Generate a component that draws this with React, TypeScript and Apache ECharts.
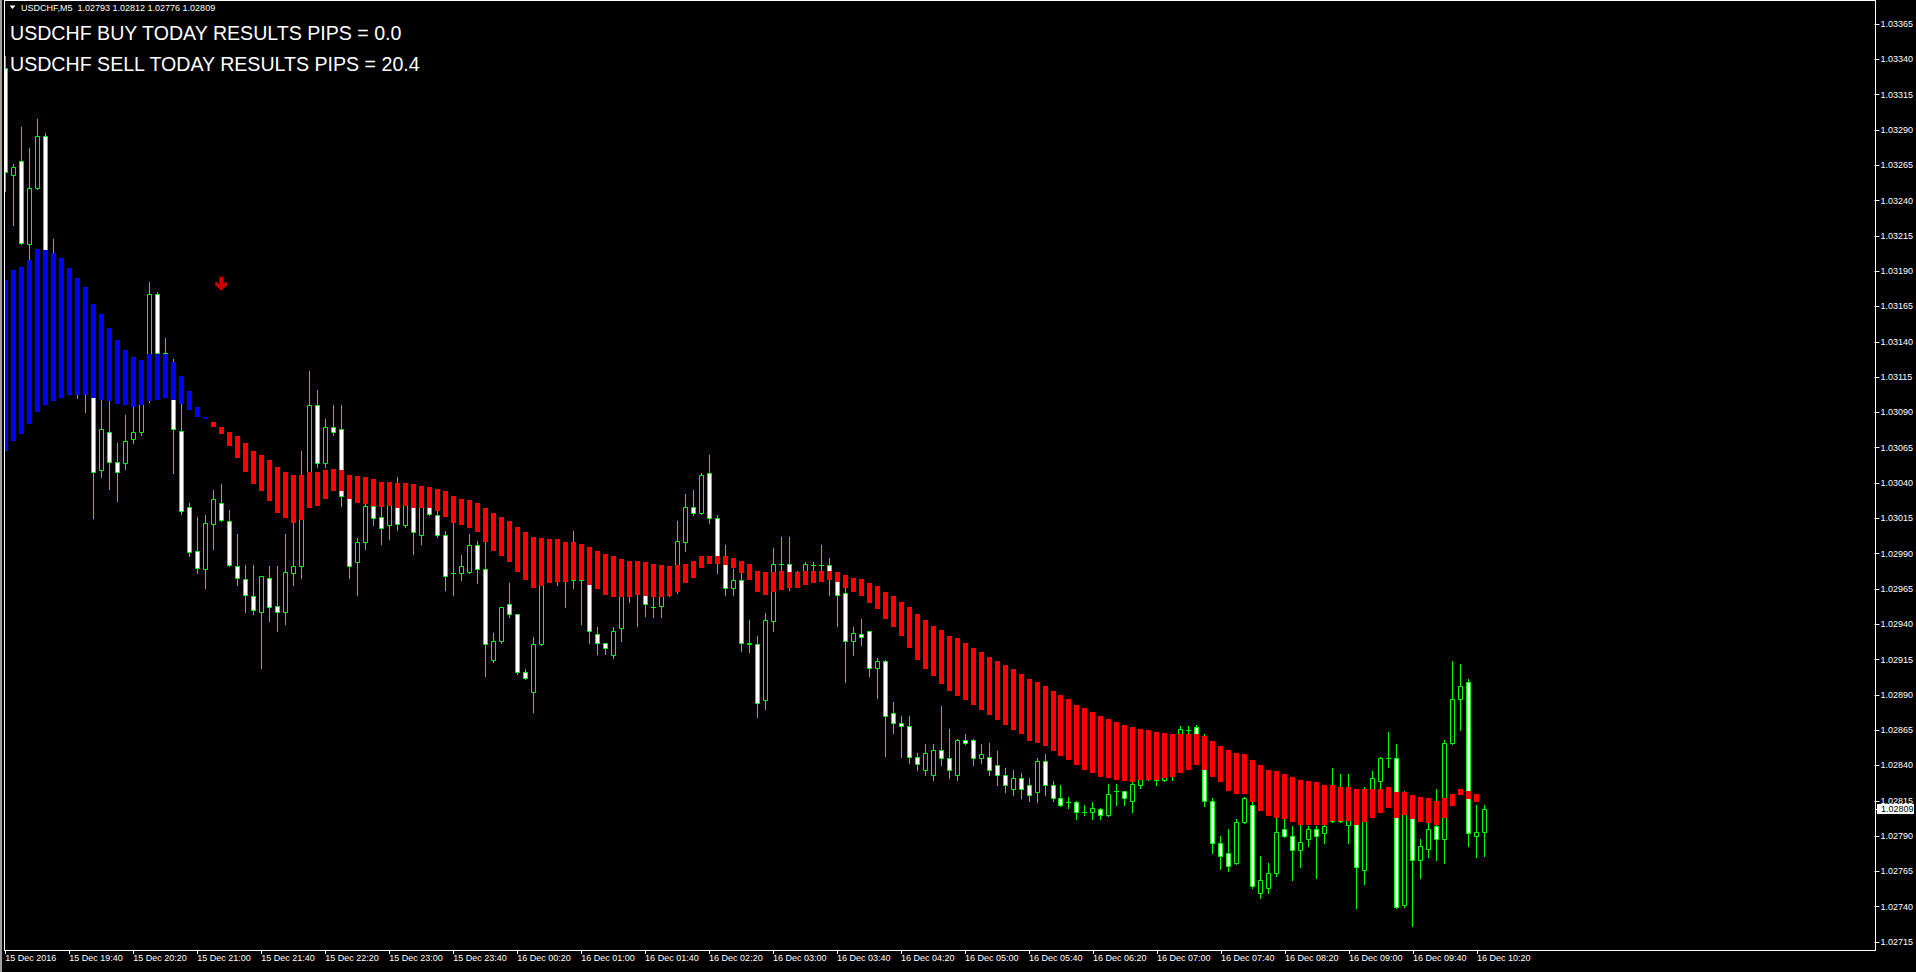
import React, { useEffect, useRef } from 'react';
import * as echarts from 'echarts';

const SYMBOL = 'USDCHF';
const BUY_PIPS = 0.0;
const SELL_PIPS = 20.4;

const tickLabels = [
  '15 Dec 2016', '15 Dec 19:40', '15 Dec 20:20', '15 Dec 21:00', '15 Dec 21:40', '15 Dec 22:20',
  '15 Dec 23:00', '15 Dec 23:40', '16 Dec 00:20', '16 Dec 01:00', '16 Dec 01:40', '16 Dec 02:20',
  '16 Dec 03:00', '16 Dec 03:40', '16 Dec 04:20', '16 Dec 05:00', '16 Dec 05:40', '16 Dec 06:20',
  '16 Dec 07:00', '16 Dec 07:40', '16 Dec 08:20', '16 Dec 09:00', '16 Dec 09:40', '16 Dec 10:20',
];

const opens = [
  1.03334, 1.03258, 1.03268, 1.03209, 1.03249, 1.03286, 1.03196, 1.03170, 1.03148, 1.03134,
  1.03113, 1.03106, 1.03049, 1.03076, 1.03055, 1.03054, 1.03071, 1.03076, 1.03099, 1.03174,
  1.03132, 1.03113, 1.03077, 1.03023, 1.02992, 1.02979, 1.03011, 1.03026, 1.03013, 1.02981,
  1.02972, 1.02960, 1.02949, 1.02973, 1.02953, 1.02949, 1.02976, 1.02981, 1.03035, 1.03095,
  1.03054, 1.03080, 1.03078, 1.03031, 1.02984, 1.02998, 1.03024, 1.03016, 1.03010, 1.03028,
  1.03010, 1.03029, 1.03003, 1.03028, 1.03017, 1.03003, 1.02976, 1.02976, 1.02977, 1.02996,
  1.02979, 1.02915, 1.02928, 1.02954, 1.02947, 1.02906, 1.02892, 1.02926, 1.02971, 1.02978,
  1.02975, 1.02971, 1.02977, 1.02973, 1.02933, 1.02927, 1.02918, 1.02937, 1.02964, 1.02968,
  1.02966, 1.02952, 1.02953, 1.02961, 1.02964, 1.02998, 1.03023, 1.03019, 1.03047, 1.03015,
  1.02985, 1.02966, 1.02971, 1.02927, 1.02926, 1.02886, 1.02942, 1.02983, 1.02983, 1.02971,
  1.02973, 1.02982, 1.02982, 1.02982, 1.02973, 1.02962, 1.02928, 1.02933, 1.02935, 1.02909,
  1.02914, 1.02877, 1.02870, 1.02868, 1.02846, 1.02837, 1.02833, 1.02851, 1.02845, 1.02833,
  1.02858, 1.02858, 1.02845, 1.02846, 1.02840, 1.02833, 1.02823, 1.02831, 1.02826, 1.02821,
  1.02843, 1.02826, 1.02817, 1.02814, 1.02814, 1.02807, 1.02807, 1.02809, 1.02805, 1.02822,
  1.02822, 1.02815, 1.02826, 1.02831, 1.02830, 1.02830, 1.02833, 1.02854, 1.02865, 1.02867,
  1.02860, 1.02815, 1.02785, 1.02778, 1.02771, 1.02800, 1.02812, 1.02750, 1.02753, 1.02764,
  1.02795, 1.02790, 1.02780, 1.02788, 1.02795, 1.02792, 1.02801, 1.02812, 1.02798, 1.02815,
  1.02766, 1.02808, 1.02829, 1.02845, 1.02845, 1.02741, 1.02815, 1.02773, 1.02781, 1.02797,
  1.02788, 1.02856, 1.02887, 1.02899, 1.02790, 1.02793,
];

const highs = [
  1.03342, 1.03266, 1.03292, 1.03277, 1.03298, 1.03288, 1.03213, 1.03177, 1.03155, 1.03141,
  1.03120, 1.03109, 1.03099, 1.03100, 1.03068, 1.03088, 1.03096, 1.03102, 1.03182, 1.03175,
  1.03143, 1.03128, 1.03096, 1.03026, 1.03016, 1.03017, 1.03035, 1.03039, 1.03021, 1.03004,
  1.02982, 1.02982, 1.02974, 1.02981, 1.02981, 1.03004, 1.03012, 1.03063, 1.03119, 1.03106,
  1.03085, 1.03095, 1.03095, 1.03033, 1.03001, 1.03025, 1.03028, 1.03023, 1.03031, 1.03044,
  1.03035, 1.03039, 1.03031, 1.03031, 1.03020, 1.03006, 1.03014, 1.02989, 1.03004, 1.02999,
  1.03005, 1.02934, 1.02952, 1.02969, 1.02947, 1.02908, 1.02931, 1.02975, 1.02985, 1.02985,
  1.02985, 1.03006, 1.02982, 1.02978, 1.02938, 1.02927, 1.02938, 1.02968, 1.02975, 1.02975,
  1.02971, 1.02959, 1.02964, 1.02971, 1.03013, 1.03032, 1.03035, 1.03047, 1.03060, 1.03017,
  1.02996, 1.02979, 1.02976, 1.02943, 1.02932, 1.02948, 1.02994, 1.03002, 1.03002, 1.02978,
  1.02984, 1.02984, 1.02996, 1.02987, 1.02975, 1.02966, 1.02938, 1.02944, 1.02935, 1.02916,
  1.02915, 1.02885, 1.02875, 1.02875, 1.02849, 1.02855, 1.02855, 1.02882, 1.02866, 1.02859,
  1.02862, 1.02859, 1.02855, 1.02856, 1.02850, 1.02838, 1.02837, 1.02835, 1.02831, 1.02845,
  1.02848, 1.02829, 1.02826, 1.02818, 1.02815, 1.02812, 1.02814, 1.02810, 1.02827, 1.02827,
  1.02822, 1.02829, 1.02837, 1.02840, 1.02837, 1.02837, 1.02844, 1.02868, 1.02868, 1.02869,
  1.02862, 1.02817, 1.02790, 1.02795, 1.02802, 1.02818, 1.02818, 1.02776, 1.02771, 1.02803,
  1.02802, 1.02797, 1.02799, 1.02797, 1.02797, 1.02798, 1.02838, 1.02834, 1.02834, 1.02819,
  1.02825, 1.02836, 1.02846, 1.02864, 1.02855, 1.02822, 1.02819, 1.02788, 1.02799, 1.02823,
  1.02858, 1.02914, 1.02912, 1.02901, 1.02812, 1.02812,
];

const lows = [
  1.03247, 1.03223, 1.03209, 1.03198, 1.03248, 1.03191, 1.03162, 1.03141, 1.03127, 1.03100,
  1.03090, 1.03015, 1.03044, 1.03036, 1.03027, 1.03050, 1.03068, 1.03074, 1.03097, 1.03127,
  1.03113, 1.03047, 1.03018, 1.02988, 1.02976, 1.02966, 1.02993, 1.03013, 1.02981, 1.02968,
  1.02949, 1.02947, 1.02909, 1.02942, 1.02935, 1.02940, 1.02968, 1.02973, 1.03031, 1.03051,
  1.03051, 1.03074, 1.03024, 1.02973, 1.02961, 1.02993, 1.03010, 1.02997, 1.03000, 1.03007,
  1.03009, 1.02990, 1.02997, 1.03017, 1.03002, 1.02964, 1.02961, 1.02971, 1.02976, 1.02969,
  1.02903, 1.02913, 1.02927, 1.02945, 1.02905, 1.02901, 1.02878, 1.02925, 1.02970, 1.02968,
  1.02952, 1.02966, 1.02940, 1.02927, 1.02919, 1.02919, 1.02916, 1.02928, 1.02956, 1.02939,
  1.02946, 1.02945, 1.02945, 1.02960, 1.02962, 1.02992, 1.03017, 1.03018, 1.03012, 1.02976,
  1.02961, 1.02961, 1.02921, 1.02920, 1.02874, 1.02880, 1.02935, 1.02975, 1.02964, 1.02967,
  1.02971, 1.02975, 1.02975, 1.02961, 1.02939, 1.02899, 1.02918, 1.02925, 1.02903, 1.02888,
  1.02847, 1.02863, 1.02846, 1.02842, 1.02837, 1.02833, 1.02830, 1.02840, 1.02831, 1.02830,
  1.02855, 1.02840, 1.02842, 1.02833, 1.02826, 1.02821, 1.02819, 1.02817, 1.02815, 1.02814,
  1.02819, 1.02815, 1.02811, 1.02810, 1.02802, 1.02805, 1.02802, 1.02802, 1.02804, 1.02812,
  1.02812, 1.02807, 1.02824, 1.02830, 1.02826, 1.02829, 1.02830, 1.02851, 1.02858, 1.02851,
  1.02811, 1.02778, 1.02767, 1.02765, 1.02770, 1.02799, 1.02753, 1.02746, 1.02750, 1.02762,
  1.02789, 1.02759, 1.02768, 1.02783, 1.02760, 1.02785, 1.02800, 1.02800, 1.02785, 1.02739,
  1.02756, 1.02805, 1.02819, 1.02839, 1.02739, 1.02740, 1.02726, 1.02760, 1.02775, 1.02773,
  1.02771, 1.02855, 1.02865, 1.02783, 1.02775, 1.02776,
];

const closes = [
  1.03260, 1.03264, 1.03210, 1.03249, 1.03286, 1.03196, 1.03170, 1.03148, 1.03134, 1.03113,
  1.03106, 1.03048, 1.03078, 1.03055, 1.03048, 1.03070, 1.03076, 1.03099, 1.03174, 1.03132,
  1.03116, 1.03078, 1.03020, 1.02991, 1.02980, 1.03012, 1.03029, 1.03014, 1.02982, 1.02973,
  1.02961, 1.02950, 1.02974, 1.02952, 1.02949, 1.02977, 1.02981, 1.03035, 1.03095, 1.03054,
  1.03080, 1.03076, 1.03031, 1.02981, 1.02998, 1.03024, 1.03015, 1.03008, 1.03028, 1.03011,
  1.03031, 1.03005, 1.03028, 1.03018, 1.03003, 1.02974, 1.02976, 1.02981, 1.02996, 1.02979,
  1.02926, 1.02928, 1.02952, 1.02947, 1.02906, 1.02902, 1.02926, 1.02971, 1.02978, 1.02975,
  1.02973, 1.02978, 1.02971, 1.02935, 1.02927, 1.02923, 1.02935, 1.02964, 1.02968, 1.02966,
  1.02954, 1.02952, 1.02961, 1.02964, 1.02999, 1.03023, 1.03019, 1.03046, 1.03015, 1.02985,
  1.02966, 1.02971, 1.02927, 1.02926, 1.02884, 1.02943, 1.02983, 1.02983, 1.02971, 1.02975,
  1.02983, 1.02982, 1.02982, 1.02973, 1.02961, 1.02928, 1.02934, 1.02931, 1.02909, 1.02914,
  1.02875, 1.02870, 1.02868, 1.02846, 1.02841, 1.02849, 1.02851, 1.02845, 1.02837, 1.02858,
  1.02856, 1.02845, 1.02848, 1.02837, 1.02833, 1.02826, 1.02831, 1.02823, 1.02819, 1.02843,
  1.02826, 1.02817, 1.02812, 1.02814, 1.02807, 1.02807, 1.02810, 1.02805, 1.02820, 1.02822,
  1.02817, 1.02827, 1.02831, 1.02832, 1.02830, 1.02833, 1.02837, 1.02866, 1.02865, 1.02854,
  1.02815, 1.02785, 1.02776, 1.02769, 1.02800, 1.02817, 1.02755, 1.02759, 1.02764, 1.02793,
  1.02790, 1.02780, 1.02786, 1.02795, 1.02790, 1.02797, 1.02812, 1.02801, 1.02815, 1.02768,
  1.02815, 1.02831, 1.02845, 1.02845, 1.02740, 1.02815, 1.02773, 1.02783, 1.02795, 1.02788,
  1.02856, 1.02887, 1.02896, 1.02792, 1.02793, 1.02809,
];

const bandUpper = [
  1.03184, 1.03191, 1.03193, 1.03198, 1.03206, 1.03205, 1.03203, 1.03199, 1.03192, 1.03185,
  1.03179, 1.03167, 1.03160, 1.03150, 1.03141, 1.03134, 1.03129, 1.03127, 1.03131, 1.03131,
  1.03131, 1.03126, 1.03116, 1.03105, 1.03094, 1.03087, 1.03083, 1.03080, 1.03076, 1.03073,
  1.03068, 1.03063, 1.03060, 1.03056, 1.03051, 1.03048, 1.03046, 1.03046, 1.03048, 1.03048,
  1.03049, 1.03050, 1.03049, 1.03046, 1.03045, 1.03044, 1.03043, 1.03041, 1.03041, 1.03040,
  1.03040, 1.03039, 1.03038, 1.03037, 1.03036, 1.03034, 1.03031, 1.03029, 1.03028, 1.03026,
  1.03022, 1.03019, 1.03016, 1.03013, 1.03009, 1.03005, 1.03002, 1.03001, 1.03000, 1.03000,
  1.02998, 1.02998, 1.02997, 1.02995, 1.02992, 1.02990, 1.02988, 1.02986, 1.02985, 1.02985,
  1.02984, 1.02983, 1.02982, 1.02981, 1.02982, 1.02983, 1.02985, 1.02988, 1.02988, 1.02988,
  1.02988, 1.02987, 1.02985, 1.02983, 1.02978, 1.02977, 1.02977, 1.02978, 1.02977, 1.02977,
  1.02978, 1.02978, 1.02978, 1.02978, 1.02977, 1.02975, 1.02973, 1.02972, 1.02969, 1.02967,
  1.02963, 1.02960, 1.02956, 1.02952, 1.02947, 1.02943, 1.02939, 1.02936, 1.02932, 1.02930,
  1.02927, 1.02923, 1.02920, 1.02917, 1.02914, 1.02911, 1.02908, 1.02905, 1.02901, 1.02899,
  1.02896, 1.02893, 1.02890, 1.02887, 1.02883, 1.02881, 1.02878, 1.02875, 1.02873, 1.02871,
  1.02869, 1.02867, 1.02866, 1.02865, 1.02864, 1.02863, 1.02862, 1.02862, 1.02862, 1.02862,
  1.02861, 1.02857, 1.02854, 1.02851, 1.02849, 1.02848, 1.02844, 1.02840, 1.02837, 1.02836,
  1.02834, 1.02832, 1.02830, 1.02829, 1.02828, 1.02826, 1.02826, 1.02825, 1.02825, 1.02823,
  1.02823, 1.02823, 1.02823, 1.02825, 1.02821, 1.02821, 1.02819, 1.02818, 1.02817, 1.02815,
  1.02817, 1.02820, 1.02823, 1.02822, 1.02820,
];

const bandLower = [
  1.03063, 1.03070, 1.03075, 1.03082, 1.03090, 1.03095, 1.03098, 1.03100, 1.03102, 1.03102,
  1.03102, 1.03100, 1.03099, 1.03098, 1.03096, 1.03095, 1.03094, 1.03095, 1.03098, 1.03099,
  1.03100, 1.03099, 1.03096, 1.03092, 1.03087, 1.03085, 1.03080, 1.03075, 1.03066, 1.03058,
  1.03048, 1.03039, 1.03034, 1.03027, 1.03019, 1.03015, 1.03012, 1.03014, 1.03022, 1.03024,
  1.03029, 1.03034, 1.03034, 1.03029, 1.03026, 1.03025, 1.03024, 1.03023, 1.03024, 1.03022,
  1.03024, 1.03022, 1.03022, 1.03022, 1.03020, 1.03016, 1.03012, 1.03010, 1.03008, 1.03005,
  1.02998, 1.02992, 1.02988, 1.02984, 1.02977, 1.02971, 1.02966, 1.02967, 1.02969, 1.02970,
  1.02970, 1.02971, 1.02971, 1.02968, 1.02965, 1.02961, 1.02959, 1.02959, 1.02959, 1.02961,
  1.02960, 1.02959, 1.02959, 1.02960, 1.02963, 1.02969, 1.02973, 1.02980, 1.02983, 1.02983,
  1.02982, 1.02980, 1.02976, 1.02971, 1.02963, 1.02961, 1.02963, 1.02964, 1.02966, 1.02966,
  1.02968, 1.02969, 1.02970, 1.02971, 1.02970, 1.02966, 1.02963, 1.02960, 1.02955, 1.02951,
  1.02944, 1.02938, 1.02932, 1.02923, 1.02915, 1.02908, 1.02903, 1.02898, 1.02893, 1.02889,
  1.02886, 1.02883, 1.02879, 1.02876, 1.02872, 1.02869, 1.02865, 1.02862, 1.02857, 1.02856,
  1.02854, 1.02850, 1.02847, 1.02844, 1.02840, 1.02837, 1.02835, 1.02832, 1.02831, 1.02830,
  1.02829, 1.02828, 1.02830, 1.02830, 1.02830, 1.02831, 1.02832, 1.02835, 1.02837, 1.02840,
  1.02837, 1.02832, 1.02828, 1.02822, 1.02820, 1.02820, 1.02814, 1.02808, 1.02804, 1.02803,
  1.02802, 1.02800, 1.02798, 1.02798, 1.02798, 1.02798, 1.02801, 1.02801, 1.02801, 1.02798,
  1.02800, 1.02803, 1.02806, 1.02810, 1.02803, 1.02805, 1.02802, 1.02800, 1.02799, 1.02798,
  1.02803, 1.02811, 1.02819, 1.02816, 1.02814,
];

// band turns from up (blue) to down (red) after this bar
const LAST_BLUE_BAR = 25;
// sell arrow signal
const arrowSignals = [[27, 1.03181]];

const SLOT_COUNT = 234;
const START_MINUTES = 19 * 60; // 15 Dec 19:00
const GREEN = '#00ff00';
const BLUE = '#0000ff';
const RED = '#ff0000';
const FONT = 'Liberation Sans, Arial, sans-serif';

function slotName(i: number): string {
  const m = START_MINUTES + i * 5;
  const day = 15 + Math.floor(m / 1440);
  const mm = m % 1440;
  const hh = Math.floor(mm / 60);
  const mi = mm % 60;
  return `${day} Dec ${String(hh).padStart(2, '0')}:${String(mi).padStart(2, '0')}`;
}

const labelShown = (index: number) => index % 8 === 0 && index / 8 < tickLabels.length;

export default function App() {
  const ref = useRef<HTMLDivElement>(null);
  useEffect(() => {
    if (!ref.current) return;
    const chart = echarts.init(ref.current, null, { renderer: 'svg' });
    const categories = Array.from({ length: SLOT_COUNT }, (_, i) => slotName(i));
    const candleData = opens.map((o, i) => [i, o, highs[i], lows[i], closes[i]]);
    const bandData = bandUpper.map((u, i) => [i, u, bandLower[i]]);
    const last = opens.length - 1;

    const option: any = {
      animation: false,
      backgroundColor: '#000000',
      grid: { left: 1.3, right: 42.7, top: 24, bottom: 30, containLabel: false },
      xAxis: {
        type: 'category',
        data: categories,
        boundaryGap: true,
        offset: 8,
        axisLine: { show: false },
        axisTick: {
          show: true,
          alignWithLabel: true,
          length: 4,
          interval: (index: number) => labelShown(index),
          lineStyle: { color: '#ffffff', width: 1 },
        },
        axisLabel: {
          show: true,
          interval: (index: number) => labelShown(index),
          formatter: (_v: string, index: number) => (labelShown(index) ? tickLabels[index / 8] : ''),
          color: '#ffffff',
          fontSize: 9,
          fontFamily: FONT,
          align: 'left',
          margin: 3,
        },
        splitLine: { show: false },
      },
      yAxis: {
        type: 'value',
        position: 'right',
        offset: 1.7,
        min: 1.02715,
        max: 1.03365,
        interval: 0.00025,
        scale: true,
        axisLine: { show: false },
        axisTick: { show: true, length: 5, lineStyle: { color: '#ffffff', width: 1 } },
        axisLabel: {
          color: '#ffffff',
          fontSize: 9,
          fontFamily: FONT,
          margin: 6,
          formatter: (v: number) => v.toFixed(5),
        },
        splitLine: { show: false },
      },
      series: [
        {
          type: 'custom',
          name: 'candles',
          z: 2,
          encode: { x: 0, y: [1, 2, 3, 4] },
          data: candleData,
          renderItem: (_params: any, api: any) => {
            const i = api.value(0);
            const o = api.value(1);
            const h = api.value(2);
            const l = api.value(3);
            const c = api.value(4);
            const po = api.coord([i, o]);
            const cx = po[0];
            const yo = po[1];
            const yc = api.coord([i, c])[1];
            const yh = api.coord([i, h])[1];
            const yl = api.coord([i, l])[1];
            const x0 = Math.round(cx - 2.5);
            const xm = x0 + 2.5;
            const top = Math.round(Math.min(yo, yc));
            const bot = Math.round(Math.max(yo, yc));
            const bull = c > o;
            const children: any[] = [
              {
                type: 'line',
                shape: { x1: xm, y1: Math.round(yh), x2: xm, y2: Math.round(yl) + 1 },
                style: { stroke: GREEN, lineWidth: 1 },
              },
            ];
            if (bot - top < 1) {
              children.push({
                type: 'line',
                shape: { x1: x0, y1: top + 0.5, x2: x0 + 5, y2: top + 0.5 },
                style: { stroke: GREEN, lineWidth: 1 },
              });
            } else {
              children.push({
                type: 'rect',
                shape: { x: x0 + 0.5, y: top + 0.5, width: 4, height: bot - top },
                style: { fill: bull ? '#000000' : '#ffffff', stroke: GREEN, lineWidth: 1 },
              });
            }
            return { type: 'group', children };
          },
        },
        {
          type: 'custom',
          name: 'band',
          z: 3,
          encode: { x: 0, y: [1, 2] },
          data: bandData,
          renderItem: (_params: any, api: any) => {
            const i = api.value(0);
            const p1 = api.coord([i, api.value(1)]);
            const y2 = api.coord([i, api.value(2)])[1];
            const x0 = Math.round(p1[0] - 2.5);
            const t = Math.round(Math.min(p1[1], y2));
            const b = Math.round(Math.max(p1[1], y2));
            return {
              type: 'rect',
              shape: { x: x0, y: t, width: 5, height: Math.max(b - t, 2) },
              style: { fill: i <= LAST_BLUE_BAR ? BLUE : RED },
            };
          },
        },
        {
          type: 'scatter',
          name: 'signal',
          z: 4,
          data: arrowSignals,
          symbol: 'path://M4,0 L8,0 L8,8 L11,5 L12,6 L12,9 L6,15 L0,9 L0,6 L1,5 L4,8 Z',
          symbolSize: [12, 14],
          itemStyle: { color: RED },
          silent: true,
        },
      ],
      graphic: [
        { type: 'rect', z: 100, shape: { x: 0, y: 0, width: 2, height: 972 }, style: { fill: '#a0a0a0' } },
        { type: 'rect', z: 100, shape: { x: 2, y: 0, width: 2, height: 972 }, style: { fill: '#000000' } },
        { type: 'line', z: 100, shape: { x1: 4.5, y1: 0, x2: 4.5, y2: 951 }, style: { stroke: '#ffffff', lineWidth: 1 } },
        { type: 'line', z: 100, shape: { x1: 4, y1: 0.5, x2: 1876, y2: 0.5 }, style: { stroke: '#ffffff', lineWidth: 1 } },
        { type: 'line', z: 100, shape: { x1: 1875.5, y1: 0, x2: 1875.5, y2: 951 }, style: { stroke: '#ffffff', lineWidth: 1 } },
        { type: 'line', z: 100, shape: { x1: 4, y1: 950.5, x2: 1876, y2: 950.5 }, style: { stroke: '#ffffff', lineWidth: 1 } },
        {
          type: 'polygon', z: 100,
          shape: { points: [[9.5, 5.5], [15.5, 5.5], [12.5, 9]] },
          style: { fill: '#ffffff' },
        },
        {
          type: 'text', z: 100, x: 21, y: 8,
          style: {
            text: `${SYMBOL},M5  ${opens[last].toFixed(5)} ${highs[last].toFixed(5)} ${lows[last].toFixed(5)} ${closes[last].toFixed(5)}`,
            fill: '#ffffff', font: `9px ${FONT}`, verticalAlign: 'middle', align: 'left',
          },
        },
        {
          type: 'text', z: 100, x: 10, y: 33,
          style: {
            text: `${SYMBOL} BUY TODAY RESULTS PIPS = ${BUY_PIPS.toFixed(1)}`,
            fill: '#ffffff', font: `19.6px ${FONT}`, verticalAlign: 'middle', align: 'left',
          },
        },
        {
          type: 'text', z: 100, x: 10, y: 63.5,
          style: {
            text: `${SYMBOL} SELL TODAY RESULTS PIPS = ${SELL_PIPS.toFixed(1)}`,
            fill: '#ffffff', font: `19.6px ${FONT}`, verticalAlign: 'middle', align: 'left',
          },
        },
      ],
    };
    chart.setOption(option);

    const py = chart.convertToPixel({ yAxisIndex: 0 }, closes[last]) as number;
    const yy = Math.round(py);
    chart.setOption({
      graphic: [
        ...option.graphic,
        { type: 'rect', z: 101, shape: { x: 1877, y: yy - 5, width: 37, height: 10 }, style: { fill: '#ffffff' } },
        { type: 'line', z: 101, shape: { x1: 1875, y1: yy + 0.5, x2: 1878, y2: yy + 0.5 }, style: { stroke: '#ffffff', lineWidth: 1 } },
        {
          type: 'text', z: 102, x: 1881, y: yy,
          style: { text: closes[last].toFixed(5), fill: '#000000', font: `9px ${FONT}`, verticalAlign: 'middle', align: 'left' },
        },
      ],
    });

    return () => chart.dispose();
  }, []);

  return (
    <div
      ref={ref}
      style={{ position: 'absolute', left: 0, top: 0, width: 1916, height: 972, background: '#000' }}
    />
  );
}
